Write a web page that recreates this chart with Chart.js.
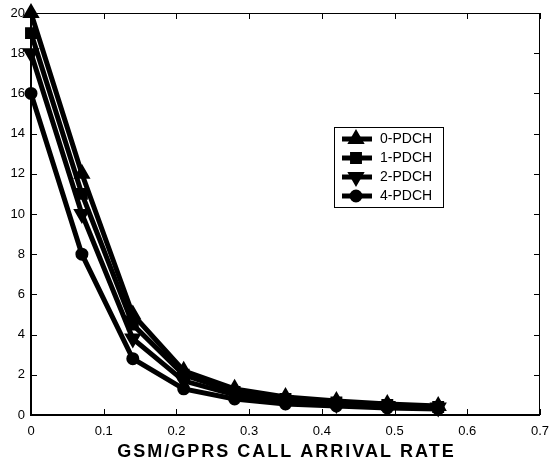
<!DOCTYPE html>
<html>
<head>
<meta charset="utf-8">
<script src="https://cdn.jsdelivr.net/npm/chart.js@4.4.1/dist/chart.umd.min.js"></script>
<style>
html, body { margin: 0; padding: 0; background: #fff; }
#box { width: 550px; height: 465px; position: relative; }
</style>
</head>
<body>
<div id="box"><canvas id="blocking_chart"></canvas></div>
<script>
// arrival rate (x) and blocking values
var arrival_rate = [0, 0.07, 0.14, 0.21, 0.28, 0.35, 0.42, 0.49, 0.56];
var pdch_0 = [20, 12, 5.0, 2.2, 1.3, 0.9, 0.7, 0.55, 0.45];
var pdch_1 = [19, 11, 4.5, 2.0, 1.15, 0.8, 0.62, 0.5, 0.4];
var pdch_2 = [18, 10, 3.8, 1.7, 1.0, 0.72, 0.55, 0.45, 0.37];
var pdch_4 = [16, 8, 2.8, 1.3, 0.8, 0.55, 0.45, 0.35, 0.3];
var series_labels = ['0-PDCH', '1-PDCH', '2-PDCH', '4-PDCH'];
var x_ticks = [0, 0.1, 0.2, 0.3, 0.4, 0.5, 0.6, 0.7];
var y_ticks = [0, 2, 4, 6, 8, 10, 12, 14, 16, 18, 20];
var x_title = 'GSM/GPRS CALL ARRIVAL RATE';

var FONT = '"Liberation Sans", Arial, sans-serif';

function to_points(values)
{
	var pts = [];
	for(var i = 0; i < arrival_rate.length; i++)
		pts.push({x: arrival_rate[i], y: values[i]});
	return pts;
}

var marker_styles = [
	{pointStyle: 'triangle', rotation: 0, r: 8},
	{pointStyle: 'rect', rotation: 0, r: 7},
	{pointStyle: 'triangle', rotation: 180, r: 8},
	{pointStyle: 'circle', rotation: 0, r: 5.5}
];
var all_series = [pdch_0, pdch_1, pdch_2, pdch_4];
var datasets = [];
for(var s = 0; s < all_series.length; s++)
{
	datasets.push({
		label: series_labels[s],
		data: to_points(all_series[s]),
		borderColor: '#000',
		borderWidth: 5,
		pointStyle: marker_styles[s].pointStyle,
		rotation: marker_styles[s].rotation,
		pointRadius: marker_styles[s].r,
		pointBackgroundColor: '#000',
		pointBorderColor: '#000',
		pointBorderWidth: 2,
		tension: 0,
		clip: false
	});
}

// box, inward ticks, axis title and the little legend inside the plot
var frame_plugin = {
	id: 'frame_plugin',
	afterDraw: function(chart)
	{
		var ctx = chart.ctx;
		var a = chart.chartArea;
		var xs = chart.scales.x, ys = chart.scales.y;
		ctx.save();
		ctx.strokeStyle = '#000';
		ctx.lineWidth = 1;
		ctx.beginPath();
		ctx.moveTo(a.left, a.top + 0.5); ctx.lineTo(a.right, a.top + 0.5);
		ctx.moveTo(a.right - 0.5, a.top); ctx.lineTo(a.right - 0.5, a.bottom);
		for(var i = 0; i < x_ticks.length; i++)
		{
			var px = Math.round(xs.getPixelForValue(x_ticks[i])) + 0.5;
			ctx.moveTo(px, a.bottom); ctx.lineTo(px, a.bottom - 6);
			ctx.moveTo(px, a.top); ctx.lineTo(px, a.top + 6);
		}
		for(var j = 0; j < y_ticks.length; j++)
		{
			var py = Math.round(ys.getPixelForValue(y_ticks[j])) + 0.5;
			ctx.moveTo(a.left, py); ctx.lineTo(a.left + 6, py);
			ctx.moveTo(a.right, py); ctx.lineTo(a.right - 6, py);
		}
		ctx.stroke();
		ctx.lineWidth = 2;
		ctx.beginPath();
		ctx.moveTo(a.left, a.top); ctx.lineTo(a.left, a.bottom);
		ctx.lineTo(a.right, a.bottom);
		ctx.stroke();

		// x axis title, spaced out
		ctx.fillStyle = '#000';
		ctx.font = 'bold 18px ' + FONT;
		ctx.letterSpacing = '2px';
		ctx.textAlign = 'center';
		ctx.textBaseline = 'middle';
		ctx.fillText(x_title, (a.left + a.right) / 2 + 1, 452);
		ctx.letterSpacing = '0px';

		// legend
		var lx = 334, ly = 127, lw = 109, lh = 80;
		ctx.fillStyle = '#fff';
		ctx.fillRect(lx, ly, lw, lh);
		ctx.lineWidth = 1;
		ctx.strokeStyle = '#000';
		ctx.strokeRect(lx + 0.5, ly + 0.5, lw, lh);
		ctx.font = '14px ' + FONT;
		ctx.textAlign = 'left';
		for(var k = 0; k < datasets.length; k++)
		{
			var yy = ly + 12 + k * 19;
			ctx.strokeStyle = '#000';
			ctx.lineWidth = 5;
			ctx.beginPath();
			ctx.moveTo(lx + 8, yy); ctx.lineTo(lx + 38, yy);
			ctx.stroke();
			ctx.fillStyle = '#000';
			ctx.lineWidth = 2;
			Chart.helpers.drawPoint(ctx, {
				pointStyle: marker_styles[k].pointStyle,
				rotation: marker_styles[k].rotation,
				radius: marker_styles[k].r,
				borderWidth: 2
			}, lx + 22, yy);
			ctx.fillStyle = '#000';
			ctx.fillText(series_labels[k], lx + 46, yy);
		}
		ctx.restore();
	}
};

var ctx = document.getElementById('blocking_chart').getContext('2d');
var blocking_chart = new Chart(ctx, {
	type: 'line',
	data: {datasets: datasets},
	options: {
		responsive: true,
		maintainAspectRatio: false,
		animation: false,
		layout: {padding: {top: 13, right: 8, left: 0, bottom: 0}},
		plugins: {legend: {display: false}, tooltip: {enabled: false}},
		scales: {
			x: {
				type: 'linear',
				min: 0, max: 0.7,
				grid: {display: false, drawTicks: false},
				border: {display: false},
				afterBuildTicks: function(axis) { axis.ticks = x_ticks.map(function(v){ return {value: v}; }); },
				afterFit: function(axis) { axis.height = 50; axis.paddingLeft = 0; axis.paddingRight = 0; },
				ticks: {
					color: '#000',
					font: {family: FONT, size: 13},
					padding: 9,
					maxRotation: 0,
					callback: function(v) { return String(Math.round(v * 10) / 10); }
				}
			},
			y: {
				min: 0, max: 20,
				grid: {display: false, drawTicks: false},
				border: {display: false},
				afterBuildTicks: function(axis) { axis.ticks = y_ticks.map(function(v){ return {value: v}; }); },
				afterFit: function(axis) { axis.width = 31; axis.paddingTop = 0; axis.paddingBottom = 0; },
				ticks: {
					color: '#000',
					font: {family: FONT, size: 13},
					padding: 6
				}
			}
		}
	},
	plugins: [frame_plugin]
});
</script>
</body>
</html>
